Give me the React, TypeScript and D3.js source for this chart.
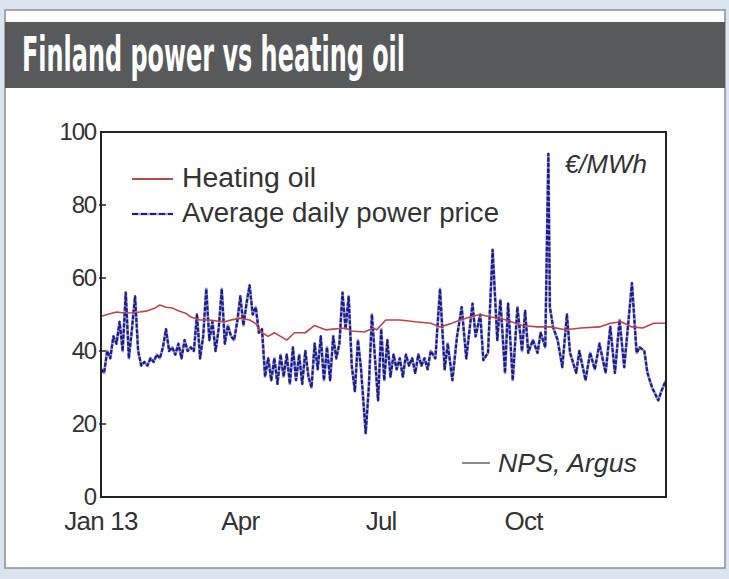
import React, { useMemo } from "react";
import * as d3 from "d3";

const WIDTH = 729;
const HEIGHT = 579;
const PLOT = { left: 101, right: 666, top: 132, bottom: 497 };

const TITLE = "Finland power vs heating oil";
const UNIT = "€/MWh";
const SOURCE = "NPS, Argus";
const SERIES_NAMES = ["Heating oil", "Average daily power price"];
const Y_TICKS = [0, 20, 40, 60, 80, 100];
const X_TICKS = ["2013-01-01", "2013-04-01", "2013-07-01", "2013-10-01"];
const X_TICK_LABELS = ["Jan 13", "Apr", "Jul", "Oct"];

// [day of year, €/MWh]
const POWER: [number, number][] = [
  [0, 35], [2, 34], [4, 40], [6, 38], [8, 44], [10, 42], [12, 48], [14, 40], [16, 56], [18, 38],
  [20, 46], [22, 55], [24, 40], [26, 36], [28, 37], [30, 36], [32, 38], [34, 37], [36, 39], [38, 38],
  [40, 41], [42, 46], [44, 40], [46, 41], [48, 39], [50, 42], [52, 38], [54, 43], [56, 40], [58, 41],
  [60, 40], [62, 50], [64, 38], [66, 44], [68, 57], [70, 43], [72, 48], [74, 40], [76, 46], [78, 57],
  [80, 42], [82, 47], [84, 44], [86, 43], [88, 48], [90, 55], [92, 47], [94, 53], [96, 58], [98, 50],
  [100, 52], [102, 45], [104, 46], [106, 33], [108, 38], [110, 32], [112, 38], [114, 31], [116, 39], [118, 33],
  [120, 39], [122, 31], [124, 41], [126, 32], [128, 39], [130, 31], [132, 40], [134, 33], [136, 30], [138, 42],
  [140, 35], [142, 44], [144, 32], [146, 41], [148, 32], [150, 44], [152, 38], [154, 42], [156, 56], [158, 46],
  [160, 55], [162, 36], [164, 29], [166, 43], [168, 35], [171, 17.5], [173, 30], [175, 50], [177, 38], [179, 26.5],
  [181, 46], [183, 32], [185, 43], [187, 33], [189, 39], [191, 35], [193, 38], [195, 33], [197, 39], [199, 36],
  [201, 38], [203, 34], [205, 39], [207, 36], [209, 38], [211, 35], [213, 40], [216, 38], [219, 57], [222, 35],
  [224, 42], [227, 32], [230, 44], [233, 52], [236, 38], [240, 53], [242, 44], [245, 50], [247, 37.5], [250, 39.5],
  [253, 67.7], [256, 43], [258, 54], [261, 34], [263, 53], [266, 32], [269, 52], [272, 40], [274, 51], [276, 39.5],
  [279, 43], [282, 39.5], [284, 45], [287, 41], [289, 94], [290, 52], [292, 46.6], [295, 43], [298, 35.6], [301, 50],
  [303, 39.5], [307, 34], [309, 40], [313, 32], [316, 39.5], [319, 35], [322, 42], [326, 34], [329, 46.6], [332, 34],
  [335, 48.5], [338, 35.6], [343, 58.6], [346, 39.5], [348, 41], [351, 40], [353, 34], [356, 30], [360, 26.5], [362, 29],
  [365, 32],
];

const HEATING_OIL: [number, number][] = [
  [0, 49.5], [4, 50], [10, 50.7], [15, 50.4], [20, 50.5], [25, 50.7], [30, 51], [35, 51.8], [38, 52.6], [42, 52],
  [46, 51.8], [50, 51], [55, 50.3], [58, 49.3], [64, 48.5], [70, 48.5], [75, 48.2], [80, 48], [85, 48.6], [90, 49],
  [96, 48.5], [100, 47.5], [102, 46], [104, 45], [108, 44], [112, 45], [116, 44], [120, 43], [125, 45], [132, 45],
  [138, 47], [145, 45.8], [150, 46], [158, 46.3], [162, 45.5], [170, 45.2], [176, 46.3], [178, 45.8], [184, 48.5], [193, 48.5],
  [203, 48], [213, 47.6], [219, 46.6], [226, 47.5], [232, 48.5], [240, 49.5], [245, 50], [252, 49.3], [262, 48.5], [272, 47],
  [282, 46.6], [290, 46.6], [300, 45.8], [310, 46.3], [322, 46.6], [329, 47.6], [336, 48], [343, 46.6], [350, 46.3], [357, 47.6],
  [365, 47.6],
];

const START = new Date(2013, 0, 1);
const FONT = "'Liberation Sans', Arial, Helvetica, sans-serif";
const TEXT = "#333";
const RED = "#b8474b";
const BLUE = "#1c1c86";
const BLUE_SOFT = "#7a7ac8";

export default function App() {
  const x = useMemo(
    () => d3.scaleTime().domain([START, d3.timeDay.offset(START, 365)]).range([PLOT.left, PLOT.right]),
    [],
  );
  const y = useMemo(() => d3.scaleLinear().domain([0, 100]).range([PLOT.bottom, PLOT.top]), []);

  const line = d3
    .line<[number, number]>()
    .x((d) => x(d3.timeDay.offset(START, d[0])))
    .y((d) => y(d[1]));

  const powerPath = line(POWER) || "";
  const oilPath = line(HEATING_OIL) || "";

  return (
    <svg width={WIDTH} height={HEIGHT} style={{ position: "absolute", left: 0, top: 0 }} fontFamily={FONT}>
      <rect width={WIDTH} height={HEIGHT} fill="#dbe5f0" />
      <rect x={5} y={10} width={720} height={558} fill="#fff" stroke="#8f8f8f" strokeWidth={1.5} />
      <rect x={5} y={22} width={720} height={66} fill="#58595b" />
      <text
        x={22}
        y={71}
        fill="#fff"
        fontSize={48}
        fontWeight="bold"
        fontFamily="'Liberation Sans Narrow', 'DejaVu Sans Condensed', sans-serif"
        textLength={383}
        lengthAdjust="spacingAndGlyphs"
      >
        {TITLE}
      </text>

      <defs>
        <clipPath id="plot-clip">
          <rect x={PLOT.left} y={PLOT.top - 2} width={PLOT.right - PLOT.left} height={PLOT.bottom - PLOT.top + 2} />
        </clipPath>
      </defs>

      <g clipPath="url(#plot-clip)">
        <path d={powerPath} fill="none" stroke={BLUE_SOFT} strokeWidth={2.8} strokeLinejoin="round" opacity={0.75} />
        <path d={powerPath} fill="none" stroke={BLUE} strokeWidth={2.2} strokeDasharray="4 1.6" strokeLinejoin="round" />
        <path d={oilPath} fill="none" stroke={RED} strokeWidth={1.6} strokeLinejoin="round" />
      </g>

      {/* frame */}
      <rect
        x={PLOT.left}
        y={PLOT.top}
        width={PLOT.right - PLOT.left}
        height={PLOT.bottom - PLOT.top}
        fill="none"
        stroke="#222"
        strokeWidth={2}
      />

      {Y_TICKS.map((t) => (
        <g key={`y-${t}`}>
          {t > 0 && t < 100 && <line x1={PLOT.left - 2} x2={PLOT.left + 5} y1={y(t)} y2={y(t)} stroke="#222" strokeWidth={1.5} />}
          <text x={96} y={y(t) + (t === 0 ? 8 : 8)} textAnchor="end" fontSize={24} fill={TEXT} letterSpacing={-1.2}>
            {t}
          </text>
        </g>
      ))}

      {X_TICKS.map((d, i) => (
        <text key={d} x={x(new Date(d + "T00:00:00"))} y={530} textAnchor="middle" fontSize={26} fill={TEXT} letterSpacing={-0.8}>
          {X_TICK_LABELS[i]}
        </text>
      ))}

      {/* legend */}
      <line x1={132} x2={173} y1={179} y2={179} stroke={RED} strokeWidth={2} />
      <text x={182} y={187} fontSize={27} fill={TEXT} textLength={134} lengthAdjust="spacingAndGlyphs">
        {SERIES_NAMES[0]}
      </text>
      <line x1={132} x2={173} y1={214} y2={214} stroke={BLUE_SOFT} strokeWidth={2.4} opacity={0.7} />
      <line x1={132} x2={173} y1={214} y2={214} stroke={BLUE} strokeWidth={2} strokeDasharray="6 3" />
      <text x={182} y={222} fontSize={27} fill={TEXT} textLength={317} lengthAdjust="spacingAndGlyphs">
        {SERIES_NAMES[1]}
      </text>

      <text x={647} y={173} textAnchor="end" fontSize={26} fontStyle="italic" fill={TEXT}>
        {UNIT}
      </text>

      <line x1={462} x2={490} y1={463} y2={463} stroke="#8a8a8a" strokeWidth={2} />
      <text x={498} y={472} fontSize={26} fontStyle="italic" fill={TEXT} textLength={139} lengthAdjust="spacingAndGlyphs">
        {SOURCE}
      </text>
    </svg>
  );
}
